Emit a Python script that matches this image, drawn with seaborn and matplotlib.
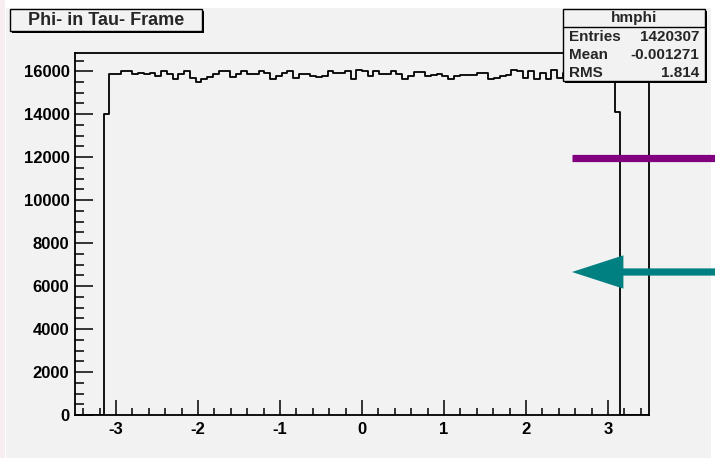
import numpy as np
import pandas as pd
import matplotlib
matplotlib.use("Agg")
import matplotlib.pyplot as plt
from matplotlib.patches import Rectangle
from matplotlib.ticker import MultipleLocator
import seaborn as sns

# hmphi: 100 bins on [-3.5, 3.5], filled only between -pi and pi
n_bins = 100
phi_range = (-3.5, 3.5)
first_filled_bin = 5
edge_counts = [14000, 14100]
inner_counts = [
    15860, 15860, 16015, 16015, 15890, 15940, 15860, 15940, 15780, 16015,
    15890, 15630, 15890, 16015, 15700, 15500, 15630, 15740, 15890, 16015,
    16015, 15740, 15890, 16015, 15890, 15860, 16015,
    15940, 15630, 15780, 15940, 16015, 15705, 15890, 15860, 15780, 15735,
    15780, 16015, 15940, 15940, 16015, 15660, 16060, 16015, 15780, 16015,
    15890, 15860, 16015, 15860, 15630, 15780, 15985, 15970, 15780, 15815,
    15860,
    15780, 15660, 15780, 15815, 15815, 15845, 15940, 15940, 15660, 15690,
    15780, 15845, 16045, 16015, 15705, 16015, 15660, 15940, 15660, 16045,
    15705,
    15900, 15800, 15950, 15850, 15780, 15900, 15820, 15950, 15880,
]
counts = [edge_counts[0]] + inner_counts + [edge_counts[1]]

title = "Phi- in Tau- Frame"
stats_name = "hmphi"
stats_rows = [("Entries", "1420307"), ("Mean", "-0.001271"), ("RMS", "1.814")]

W, H = 715, 458
BG = "#f2f2f2"


def fx(x):
    return x / W


def fy(y):
    return 1 - y / H


sns.set_theme(style="ticks")
plt.rcParams["font.family"] = ["Liberation Sans", "DejaVu Sans"]
plt.rcParams["axes.unicode_minus"] = False

fig = plt.figure(figsize=(W / 100, H / 100), dpi=100)
fig.patch.set_facecolor("white")
fig.patches.append(Rectangle((fx(6), 0), fx(705), 1 - 8 / H, transform=fig.transFigure,
                             facecolor=BG, edgecolor="none", zorder=-10))
fig.patches.append(Rectangle((0, 0), fx(5), 1, transform=fig.transFigure,
                             facecolor="#f6eef1", edgecolor="none", zorder=-10))

ax = fig.add_axes([fx(75), fy(415), fx(574), (415 - 53) / H])
ax.set_facecolor(BG)

width = (phi_range[1] - phi_range[0]) / n_bins
centers = phi_range[0] + width * (np.arange(len(counts)) + first_filled_bin + 0.5)
df = pd.DataFrame({"phi": centers, "n": counts})
sns.histplot(data=df, x="phi", weights="n", bins=n_bins, binrange=phi_range,
             element="step", fill=False, color="black", linewidth=1.3, ax=ax)

ax.set_xlim(*phi_range)
ax.set_ylim(0, 16850)
ax.set_xlabel("")
ax.set_ylabel("")
ax.xaxis.set_major_locator(MultipleLocator(1))
ax.xaxis.set_minor_locator(MultipleLocator(0.2))
ax.yaxis.set_major_locator(MultipleLocator(2000))
ax.yaxis.set_minor_locator(MultipleLocator(500))
ax.tick_params(which="both", direction="in", width=1.1, colors="black", labelsize=12)
ax.tick_params(axis="y", which="major", length=13, pad=4)
ax.tick_params(axis="y", which="minor", length=6.5)
ax.tick_params(axis="x", which="major", length=11, pad=5)
ax.tick_params(axis="x", which="minor", length=5)
for lab in ax.get_xticklabels() + ax.get_yticklabels():
    lab.set_fontweight("bold")
for sp in ax.spines.values():
    sp.set_visible(True)
    sp.set_color("black")
    sp.set_linewidth(1.3)


def box(x0, y0, x1, y1):
    # ROOT style pave with shadow
    fig.patches.append(Rectangle((fx(x0 + 2), fy(y1 + 2)), fx(x1 - x0), (y1 - y0) / H,
                                 transform=fig.transFigure, facecolor="black",
                                 edgecolor="none", zorder=5))
    fig.patches.append(Rectangle((fx(x0), fy(y1)), fx(x1 - x0), (y1 - y0) / H,
                                 transform=fig.transFigure, facecolor=BG,
                                 edgecolor="black", linewidth=1.0, zorder=6))


box(10, 9, 202, 31)
fig.text(fx(106), fy(20.5), title, ha="center", va="center", fontsize=13,
         fontweight="bold", zorder=7)

box(563, 9, 705, 81)
fig.add_artist(plt.Line2D([fx(563), fx(705)], [fy(27), fy(27)], color="black",
                          linewidth=1.0, transform=fig.transFigure, zorder=7))
fig.text(fx(634), fy(18), stats_name, ha="center", va="center", fontsize=11,
         fontweight="bold", zorder=7)
for i, (k, v) in enumerate(stats_rows):
    yy = fy(37 + 18 * i)
    fig.text(fx(569), yy, k, ha="left", va="center", fontsize=11, fontweight="bold", zorder=7)
    fig.text(fx(699), yy, v, ha="right", va="center", fontsize=11, fontweight="bold", zorder=7)

# overlay marks from the slide
fig.add_artist(plt.Line2D([fx(572), fx(716)], [fy(158), fy(158)], color="#800080",
                          linewidth=5.2, solid_capstyle="butt", transform=fig.transFigure, zorder=8))
ax.annotate("", xy=(572, H - 272), xytext=(716, H - 272), xycoords="figure pixels",
            textcoords="figure pixels", annotation_clip=False, zorder=8,
            arrowprops=dict(facecolor="#008080", edgecolor="none", width=5.2,
                            headwidth=24, headlength=37, shrink=0))

fig.savefig("out.png", dpi=100, facecolor=fig.get_facecolor())
